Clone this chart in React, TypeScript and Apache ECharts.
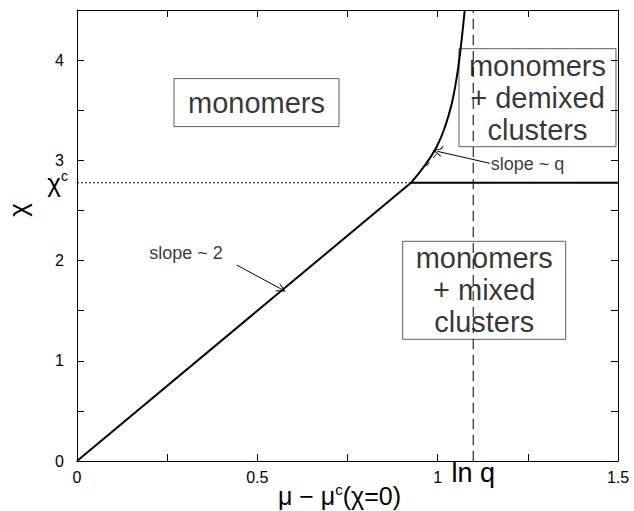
import React, { useEffect, useRef } from "react";
import * as echarts from "echarts";

// ---- data ----
const xLabelValues = [0, 0.5, 1, 1.5];
const yLabelValues = [0, 1, 2, 3, 4];
const lnQ = 1.0986;
const chiC = 2.776;
const kinkX = 0.926;

const lowerBranch: [number, number][] = [
  [0, 0],
  [kinkX, chiC],
];
const upperBranchX = [0.926, 0.952, 0.978, 0.998, 1.018, 1.04, 1.056, 1.067, 1.075];
const upperBranchY = [2.776, 2.89, 3.02, 3.14, 3.31, 3.58, 3.9, 4.22, 4.5];
const horizontalBranch: [number, number][] = [
  [kinkX, chiC],
  [1.5, chiC],
];
const dottedGuide: [number, number][] = [
  [0, chiC],
  [kinkX, chiC],
];
const lnQLine: [number, number][] = [
  [lnQ, 0],
  [lnQ, 4.5],
];
const tangentQ: [number, number][] = [
  [0.968, 2.94],
  [1.024, 3.18],
];
const arrow2: [number, number][] = [
  [0.443, 1.955],
  [0.5675, 1.713],
];
const arrowQ: [number, number][] = [
  [1.145, 2.97],
  [0.999, 3.09],
];
const slopeLabels = [
  { text: "slope ~ 2", x: 0.302, y: 2.072 },
  { text: "slope ~ q", x: 1.249, y: 2.968 },
];
const regionLabels = [
  { text: "monomers", x: 0.4977, y: 3.576, pad: [8, 14] },
  { text: "monomers\n+ demixed\nclusters", x: 1.2767, y: 3.625, pad: [1, 10] },
  { text: "monomers\n+ mixed\nclusters", x: 1.129, y: 1.703, pad: [1, 13] },
];

const FONT = "'Liberation Sans', Arial, Helvetica, sans-serif";

const mkTick = () => ({ show: true, inside: true, length: 7, lineStyle: { color: "#000", width: 1 } });
const mkLine = () => ({ show: true, onZero: false, lineStyle: { color: "#000", width: 1 } });

export default function App() {
  const ref = useRef<HTMLDivElement>(null);
  useEffect(() => {
    document.body.style.margin = "0";
    const chart = echarts.init(ref.current!, null, { renderer: "svg" });
    const openArrow = "path://M5,0 L10,12 L9,12 L5,3 L1,12 L0,12 Z";
    const option: any = {
      animation: false,
      textStyle: { fontFamily: FONT },
      grid: { left: 77, right: 16, top: 10, bottom: 50, containLabel: false, outerBoundsMode: "none" },
      xAxis: [
        {
          type: "value",
          min: 0,
          max: 1.5,
          interval: 0.25,
          position: "bottom",
          axisLine: mkLine(),
          axisTick: mkTick(),
          splitLine: { show: false },
          axisLabel: {
            color: "#000",
            fontSize: 16,
            fontFamily: FONT,
            margin: 8,
            formatter: (v: number) => (xLabelValues.some((a) => Math.abs(a - v) < 1e-9) ? String(v) : ""),
          },
          name: "μ − μ{sup|c}(χ=0)",
          nameLocation: "middle",
          nameGap: 21,
          nameMoveOverlap: false,
          nameTextStyle: {
            color: "#000",
            fontSize: 25,
            fontFamily: FONT,
            lineHeight: 28,
            padding: [0, 16, 0, 0],
            rich: {
              sup: { fontSize: 15, fontFamily: FONT, color: "#000", lineHeight: 28, verticalAlign: "top" },
            },
          },
        },
        {
          type: "value",
          min: 0,
          max: 1.5,
          interval: 0.25,
          position: "top",
          axisLine: mkLine(),
          axisTick: mkTick(),
          axisLabel: { show: false },
          splitLine: { show: false },
        },
        {
          type: "value",
          min: 0,
          max: 1.5,
          position: "bottom",
          axisLine: { show: false },
          axisTick: { show: false },
          splitLine: { show: false },
          axisLabel: {
            customValues: [lnQ],
            formatter: () => "ln q",
            color: "#000",
            fontSize: 27,
            fontFamily: FONT,
            margin: -2,
          },
        },
      ],
      yAxis: [
        {
          type: "value",
          min: 0,
          max: 4.5,
          interval: 0.5,
          position: "left",
          axisLine: mkLine(),
          axisTick: mkTick(),
          splitLine: { show: false },
          axisLabel: {
            color: "#000",
            fontSize: 16,
            fontFamily: FONT,
            margin: 13,
            formatter: (v: number) => (yLabelValues.some((a) => Math.abs(a - v) < 1e-9) ? String(v) : ""),
          },
        },
        {
          type: "value",
          min: 0,
          max: 4.5,
          interval: 0.5,
          position: "right",
          axisLine: mkLine(),
          axisTick: mkTick(),
          axisLabel: { show: false },
          splitLine: { show: false },
        },
        {
          type: "value",
          min: 0,
          max: 4.5,
          position: "left",
          axisLine: { show: false },
          axisTick: { show: false },
          splitLine: { show: false },
          axisLabel: {
            customValues: [chiC],
            formatter: () => "χ{c|c}",
            color: "#000",
            fontSize: 26,
            fontFamily: FONT,
            margin: 9,
            lineHeight: 28,
            rich: {
              c: { fontSize: 14, fontFamily: FONT, color: "#000", lineHeight: 28, verticalAlign: "top" },
            },
          },
        },
      ],
      graphic: [
        {
          type: "text",
          x: 18,
          y: 210,
          rotation: Math.PI / 2,
          style: {
            text: "χ",
            fontSize: 26,
            fontFamily: FONT,
            fill: "#000",
            textAlign: "center",
            textVerticalAlign: "middle",
          },
        },
      ],
      series: [
        {
          type: "line",
          data: lnQLine,
          symbol: "none",
          lineStyle: { color: "#000", width: 1, type: [10, 6] },
          silent: true,
        },
        {
          type: "line",
          data: dottedGuide,
          symbol: "none",
          lineStyle: { color: "#000", width: 1, type: [2, 2] },
          silent: true,
        },
        {
          type: "line",
          data: lowerBranch,
          symbol: "none",
          lineStyle: { color: "#000", width: 2 },
          silent: true,
        },
        {
          type: "line",
          data: upperBranchX.map((x, i) => [x, upperBranchY[i]]),
          symbol: "none",
          smooth: 0.3,
          lineStyle: { color: "#000", width: 2 },
          silent: true,
        },
        {
          type: "line",
          data: horizontalBranch,
          symbol: "none",
          lineStyle: { color: "#000", width: 2 },
          silent: true,
        },
        {
          type: "line",
          data: tangentQ,
          symbol: "none",
          lineStyle: { color: "#000", width: 1, type: [5, 6] },
          silent: true,
        },
        {
          type: "lines",
          coordinateSystem: "cartesian2d",
          symbol: ["none", openArrow],
          symbolSize: 9,
          lineStyle: { color: "#000", width: 1, opacity: 1 },
          data: [{ coords: arrow2 }, { coords: arrowQ }],
          silent: true,
        },
        {
          type: "scatter",
          symbolSize: 1,
          itemStyle: { color: "rgba(0,0,0,0)" },
          silent: true,
          data: slopeLabels.map((d) => ({
            value: [d.x, d.y],
            label: {
              show: true,
              position: "inside",
              formatter: d.text,
              color: "#000",
              fontSize: 18,
              fontFamily: FONT,
            },
          })),
        },
        {
          type: "scatter",
          symbolSize: 1,
          itemStyle: { color: "rgba(0,0,0,0)" },
          silent: true,
          data: regionLabels.map((d) => ({
            value: [d.x, d.y],
            label: {
              show: true,
              position: "inside",
              formatter: d.text,
              color: "#000",
              fontSize: 29,
              fontFamily: FONT,
              lineHeight: 32,
              align: "center",
              padding: d.pad,
              borderColor: "#333",
              borderWidth: 1,
            },
          })),
        },
      ],
    };
    chart.setOption(option);
    return () => chart.dispose();
  }, []);
  return <div ref={ref} style={{ width: 634, height: 511 }} />;
}
